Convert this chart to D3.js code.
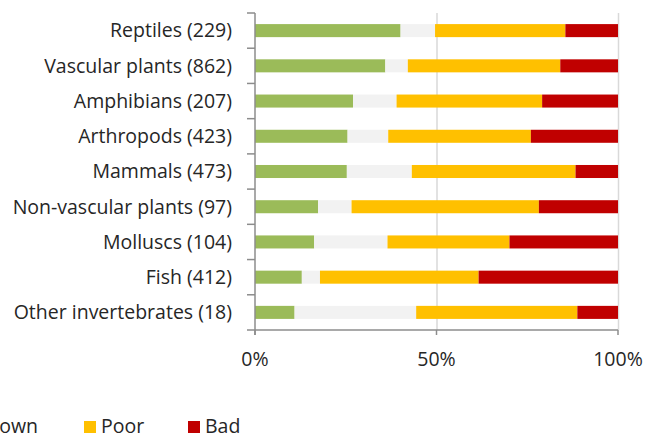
<!DOCTYPE html>
<html><head><meta charset="utf-8">
<script src="https://cdn.jsdelivr.net/npm/d3@7"></script>
<style>html,body{margin:0;padding:0;background:#fff;overflow:hidden}</style>
</head><body>
<svg id="c" width="645" height="435"></svg>
<script>
const categories = ["Reptiles (229)","Vascular plants (862)","Amphibians (207)","Arthropods (423)","Mammals (473)","Non-vascular plants (97)","Molluscs (104)","Fish (412)","Other invertebrates (18)"];
const seriesNames = ["Good","Unknown","Poor","Bad"];
const good    = [40.1,35.9,27.0,25.5,25.3,17.4,16.3,12.9,10.9];
const unknown = [9.5,6.2,12.0,11.2,17.9,9.2,20.2,5.0,33.5];
const poor    = [35.9,42.0,40.1,39.3,45.1,51.6,33.6,43.7,44.4];
const bad     = [14.5,15.9,20.9,24.0,11.7,21.8,29.9,38.4,11.2];
const tickValues = [0,50,100];
const tickLabels = ["0%","50%","100%"];
const colors = ["#9bbb59","#f2f2f2","#ffc000","#c00000"];

const svg = d3.select("#c");
const font = "'Open Sans', sans-serif";
const textColor = "#262626";
const fs = 19.5;

const rows = categories.map((c,i)=>({cat:c, Good:good[i], Unknown:unknown[i], Poor:poor[i], Bad:bad[i]}));
const stack = d3.stack().keys(seriesNames).offset(d3.stackOffsetExpand)(rows);

const x = d3.scaleLinear().domain([0,1]).range([255,618]);
const y = d3.scaleBand().domain(categories).range([13,330]).paddingInner(0.63).paddingOuter(0.315);
const yb = d3.scaleBand().domain(categories).range([13,330]);

// gridlines
svg.append("g").selectAll("line").data(tickValues.slice(1)).join("line")
  .attr("x1",d=>x(d/100)+0.5).attr("x2",d=>x(d/100)+0.5)
  .attr("y1",13).attr("y2",330).attr("stroke","#d9d9d9").attr("stroke-width",1.5);

// bars
svg.append("g").selectAll("g").data(stack).join("g")
  .attr("fill",(d,i)=>colors[i])
  .selectAll("rect").data(d=>d).join("rect")
  .attr("x",d=>x(d[0])).attr("width",d=>x(d[1])-x(d[0]))
  .attr("y",d=>y(d.data.cat)).attr("height",y.bandwidth());

// y axis
const ya = svg.append("g").attr("transform","translate(255,0)");
ya.append("line").attr("x1",0).attr("x2",0).attr("y1",13).attr("y2",335).attr("stroke","#8c8c8c").attr("stroke-width",1.5);
const bounds = categories.map(c=>yb(c)).concat([330]);
ya.selectAll("line.t").data(bounds).join("line").attr("class","t")
  .attr("x1",-8).attr("x2",0).attr("y1",d=>d).attr("y2",d=>d).attr("stroke","#8c8c8c").attr("stroke-width",1.5);
ya.selectAll("text").data(categories).join("text")
  .attr("x",-23).attr("y",d=>yb(d)+yb.bandwidth()/2).attr("dy","0.35em")
  .attr("text-anchor","end").attr("font-family",font).attr("font-size",fs).attr("fill",textColor)
  .text(d=>d);

// x axis
const xa = svg.append("g").attr("transform","translate(0,330)");
xa.append("line").attr("x1",255).attr("x2",618).attr("y1",0).attr("y2",0).attr("stroke","#8c8c8c").attr("stroke-width",1.5);
xa.selectAll("line.t").data(tickValues).join("line").attr("class","t")
  .attr("x1",d=>x(d/100)).attr("x2",d=>x(d/100)).attr("y1",0).attr("y2",5).attr("stroke","#8c8c8c").attr("stroke-width",1.5);
xa.selectAll("text").data(tickValues).join("text")
  .attr("x",d=>x(d/100)).attr("y",36).attr("text-anchor","middle")
  .attr("font-family",font).attr("font-size",fs).attr("fill",textColor)
  .text((d,i)=>tickLabels[i]);

// legend
const lg = svg.append("g");
const items = lg.selectAll("g").data(seriesNames).join("g");
items.append("rect").attr("width",12).attr("height",12).attr("y",421).attr("fill",(d,i)=>colors[i]);
items.append("text").attr("x",17).attr("y",433).attr("font-family",font).attr("font-size",fs).attr("fill",textColor).text(d=>d);
const widths = [];
items.each(function(){ widths.push(this.querySelector("text").getComputedTextLength()); });
const gap = 46;
const pos = [];
pos[2] = 84;
pos[3] = 188;
pos[1] = pos[2] - gap - widths[1] - 17;
pos[0] = pos[1] - gap - widths[0] - 17;
items.attr("transform",(d,i)=>`translate(${pos[i]},0)`);
</script>
</body></html>
